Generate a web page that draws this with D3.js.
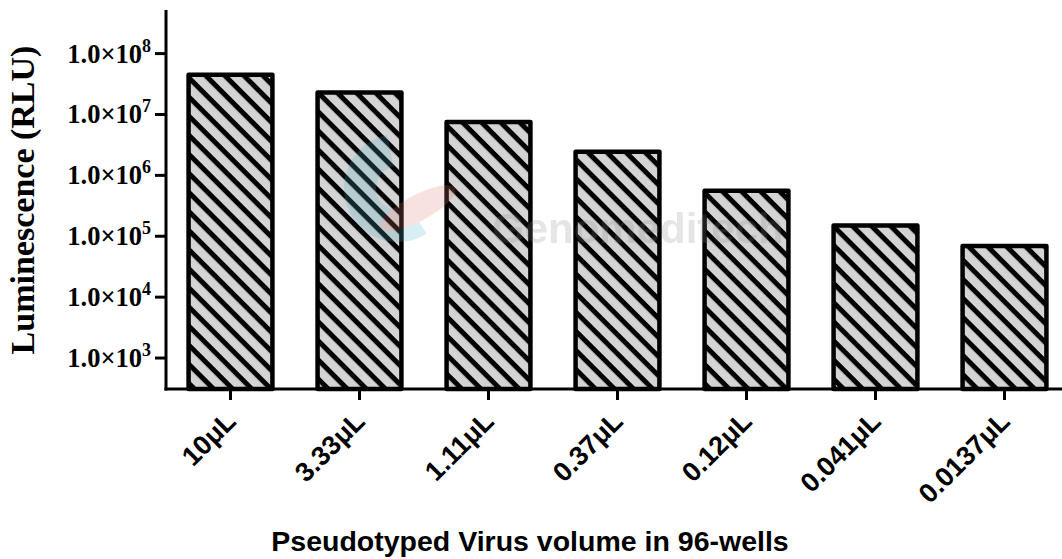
<!DOCTYPE html>
<head>
    <meta charset="utf-8">
    <script src="https://d3js.org/d3.v7.min.js"></script>
    <style>
        body { margin: 0; background: #fff; }
    </style>
</head>
<body>
<script>
    // volumes and luminescence
    const volumes = ['10μL', '3.33μL', '1.11μL', '0.37μL', '0.12μL', '0.041μL', '0.0137μL'];
    const rlu = [4.5e7, 2.3e7, 7.5e6, 2.45e6, 5.6e5, 1.5e5, 6.9e4];
    const yTicks = [1e3, 1e4, 1e5, 1e6, 1e7, 1e8];

    const width = 1062, height = 559;

    const x = d3.scaleBand()
        .domain(volumes)
        .range([166, 1069])
        .paddingInner(0.35)
        .paddingOuter(0.175);

    const y = d3.scaleLog()
        .domain([310, 5.2e8])
        .range([389, 10]);

    const svg = d3.select('body').append('svg')
        .attr('width', width)
        .attr('height', height);

    // hatch fill
    const pat = svg.append('defs').append('pattern')
        .attr('id', 'hatch')
        .attr('patternUnits', 'userSpaceOnUse')
        .attr('width', 10)
        .attr('height', 13.5)
        .attr('patternTransform', 'rotate(45)');
    pat.append('rect').attr('width', 10).attr('height', 13.5).attr('fill', '#d4d4d4');
    pat.append('rect').attr('width', 10).attr('height', 5).attr('fill', '#000');

    // bars
    svg.append('g').selectAll('rect')
        .data(rlu)
        .join('rect')
        .attr('x', (d, i) => x(volumes[i]))
        .attr('width', x.bandwidth())
        .attr('y', d => y(d))
        .attr('height', d => y.range()[0] - y(d))
        .attr('fill', 'url(#hatch)')
        .attr('stroke', '#000')
        .attr('stroke-width', 4.5)
        .attr('stroke-linejoin', 'round');

    // faint watermark, drawn over the bars like in the source
    const wm = svg.append('g').attr('opacity', 0.22);
    wm.append('path')
        .attr('d', d3.arc()({innerRadius: 22, outerRadius: 54, startAngle: -0.2, endAngle: -3.7}))
        .attr('transform', 'translate(398,188)')
        .attr('fill', '#4fb3c8');
    wm.append('ellipse').attr('cx', 418).attr('cy', 208).attr('rx', 42).attr('ry', 13)
        .attr('transform', 'rotate(-28,418,208)')
        .attr('fill', '#e07a70');
    wm.append('text').attr('x', 492).attr('y', 243)
        .attr('font-family', 'Liberation Sans').attr('font-weight', 'bold')
        .attr('font-size', 42).attr('fill', '#888').text('Genomeditech');

    // y axis
    const ya = svg.append('g');
    ya.append('line')
        .attr('x1', 166).attr('x2', 166)
        .attr('y1', 10).attr('y2', 390.5)
        .attr('stroke', '#000').attr('stroke-width', 3);
    const yt = ya.selectAll('g.tick')
        .data(yTicks)
        .join('g')
        .attr('class', 'tick')
        .attr('transform', d => `translate(0,${y(d)})`);
    yt.append('line')
        .attr('x1', 155).attr('x2', 166)
        .attr('stroke', '#000').attr('stroke-width', 3);
    const ytt = yt.append('text')
        .attr('x', 151).attr('y', 9)
        .attr('text-anchor', 'end')
        .attr('font-family', 'Liberation Serif, Times New Roman, serif')
        .attr('font-weight', 'bold')
        .attr('font-size', 26.5)
        .attr('fill', '#000');
    ytt.append('tspan').text('1.0×10');
    ytt.append('tspan')
        .attr('dy', -11)
        .attr('font-size', 18)
        .text(d => Math.round(Math.log10(d)));

    svg.append('text')
        .attr('transform', 'translate(34,200) rotate(-90)')
        .attr('text-anchor', 'middle')
        .attr('font-family', 'Liberation Serif, Times New Roman, serif')
        .attr('font-weight', 'bold')
        .attr('font-size', 34)
        .text('Luminescence (RLU)');

    // x axis
    const xa = svg.append('g');
    xa.append('line')
        .attr('x1', 164.5).attr('x2', width)
        .attr('y1', 389).attr('y2', 389)
        .attr('stroke', '#000').attr('stroke-width', 3);
    const xt = xa.selectAll('g.tick')
        .data(volumes)
        .join('g')
        .attr('class', 'tick')
        .attr('transform', d => `translate(${x(d) + x.bandwidth() / 2},0)`);
    xt.append('line')
        .attr('y1', 389).attr('y2', 400)
        .attr('stroke', '#000').attr('stroke-width', 3);
    xt.append('text')
        .attr('transform', 'translate(7,423) rotate(-45)')
        .attr('text-anchor', 'end')
        .attr('font-family', 'Liberation Sans, Arial, sans-serif')
        .attr('font-weight', 'bold')
        .attr('font-size', 27)
        .text(d => d);

    svg.append('text')
        .attr('x', 530).attr('y', 551)
        .attr('text-anchor', 'middle')
        .attr('font-family', 'Liberation Sans, Arial, sans-serif')
        .attr('font-weight', 'bold')
        .attr('font-size', 28.5)
        .text('Pseudotyped Virus volume in 96-wells');
</script>
</body>
